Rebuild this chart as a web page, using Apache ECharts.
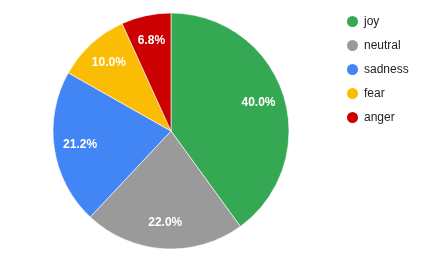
<!DOCTYPE html>
<html>
<head>
<meta charset="utf-8">
<script src="https://cdn.jsdelivr.net/npm/echarts@6/dist/echarts.min.js"></script>
<style>html,body{margin:0;padding:0;background:#fff}#c{width:423px;height:262px}</style>
</head>
<body>
<div id="c"></div>
<script>
var categories = ['joy', 'neutral', 'sadness', 'fear', 'anger'];
var values = [40.0, 22.0, 21.2, 10.0, 6.8];
var colors = ['#34A853', '#9A9A9A', '#4285F4', '#FBBC04', '#CC0000'];

var data = categories.map(function (n, i) {
  return { name: n, value: values[i], itemStyle: { color: colors[i] } };
});
var labelData = categories.map(function (n, i) {
  return { name: n, value: values[i] };
});

var chart = echarts.init(document.getElementById('c'), null, { renderer: 'canvas' });
chart.setOption({
  animation: false,
  legend: {
    orient: 'vertical',
    left: 340,
    top: 9,
    itemWidth: 13,
    itemHeight: 13,
    itemGap: 9,
    icon: 'circle',
    data: categories,
    textStyle: { fontFamily: 'Arial, "Liberation Sans"', fontSize: 12, color: '#222' }
  },
  series: [
    {
      type: 'pie',
      center: [171, 131],
      radius: [0, 118],
      startAngle: 90,
      clockwise: true,
      silent: true,
      data: data,
      itemStyle: { borderColor: '#fff', borderWidth: 0.6 },
      label: { show: false },
      labelLine: { show: false }
    },
    {
      type: 'pie',
      center: [171, 131],
      radius: [60, 118],
      startAngle: 90,
      clockwise: true,
      silent: true,
      data: labelData,
      itemStyle: { color: 'rgba(0,0,0,0)' },
      label: {
        show: true,
        position: 'inside',
        color: '#fff',
        fontFamily: 'Arial, "Liberation Sans"',
        fontSize: 12,
        fontWeight: 'bold',
        formatter: function (p) { return p.value.toFixed(1) + '%'; }
      },
      labelLine: { show: false }
    }
  ]
});
</script>
</body>
</html>
